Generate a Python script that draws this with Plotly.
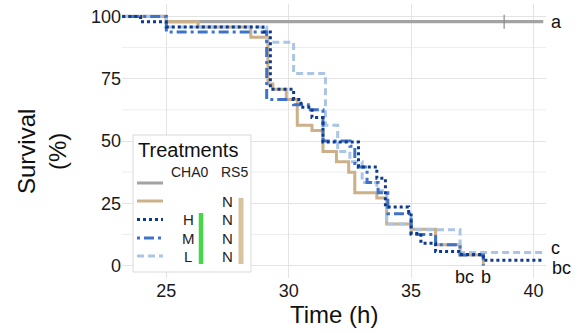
import plotly.graph_objects as go

# ---------------- data ----------------
time_gray = [23.2, 25.0, 40.4]
surv_gray = [100, 97.9, 97.9]
censor_time = [38.8]
censor_surv = [97.9]

time_tan = [23.2, 25.0, 26.3, 28.45, 29.15, 29.35, 29.9, 30.35, 30.95, 31.4, 31.95, 32.45, 32.7, 33.6, 34.0, 35.0, 36.0, 37.0, 37.95]
surv_tan = [100, 97.9, 95.8, 91.7, 72.9, 70.8, 66.7, 56.3, 54.2, 45.8, 41.7, 37.5, 29.2, 27.1, 16.7, 14.6, 8.3, 4.2, 0]

time_H = [23.2, 23.95, 25.0, 28.95, 29.25, 30.2, 30.5, 30.95, 31.4, 32.85, 33.6, 33.95, 34.9, 35.0, 35.4, 36.0, 36.95, 37.95, 40.4]
surv_H = [100, 97.9, 95.8, 93.8, 70.8, 66.7, 63.5, 59.4, 49.6, 39.6, 35.0, 23.5, 21.2, 12.9, 9.0, 5.6, 4.4, 2.1, 2.1]

time_M = [23.2, 25.0, 29.1, 30.2, 30.8, 31.4, 32.5, 32.7, 33.2, 33.65, 34.05, 35.0, 36.0, 37.0, 37.95]
surv_M = [100, 93.75, 66.7, 64.6, 62.5, 50.0, 47.9, 39.6, 33.3, 29.2, 20.8, 12.5, 8.3, 4.2, 0]

time_L = [23.2, 25.0, 29.1, 30.2, 31.5, 32.0, 32.5, 33.0, 33.6, 34.0, 35.0, 37.0, 40.4]
surv_L = [100, 95.8, 89.6, 77.1, 56.3, 45.8, 41.7, 33.3, 30.0, 16.7, 14.4, 5.2, 5.2]

x_ticks = [25, 30, 35, 40]
y_ticks = [0, 25, 50, 75, 100]
y_minor = [12.5, 37.5, 62.5, 87.5]

sig_labels = ["a", "c", "bc", "bc", "b"]
sig_x = [40.95, 40.9, 41.15, 37.2, 38.05]
sig_y = [97.9, 7.2, -1.0, -4.7, -4.7]

legend_rows = ["", "", "H", "M", "L"]
legend_rs5 = ["", "N", "N", "N", "N"]

# ---------------- style ----------------
FONT = "Liberation Sans, Arial, sans-serif"
C_GRAY = "#a3a3a3"
C_TAN = "#ccb089"
C_H = "#0c3a8e"
C_M = "#3f72c9"
C_L = "#abc5e6"
D_H = "3px,3px"
D_M = "3px,4px,10px,4px"
D_L = "7px,4px"

XR = [23.19, 40.51]
YR = [-5, 105]
ML, MR, MT, MB = 122, 33, 4, 55
W, H = 579, 333
PW, PH = W - ML - MR, H - MT - MB


def px(x):
    return (x - ML) / PW


def py(y):
    return (H - MB - y) / PH


def dx(v):
    return (v - XR[0]) / (XR[1] - XR[0])


def dy(v):
    return (v - YR[0]) / (YR[1] - YR[0])


fig = go.Figure()
fig.add_trace(go.Scatter(x=time_gray, y=surv_gray, mode="lines", line=dict(color=C_GRAY, width=3.2, shape="hv"), showlegend=False))
fig.add_trace(go.Scatter(x=censor_time, y=censor_surv, mode="markers", marker=dict(symbol="line-ns-open", size=10, color="#8a8a8a", line=dict(color="#8a8a8a", width=1.2)), showlegend=False))
fig.add_trace(go.Scatter(x=time_tan, y=surv_tan, mode="lines", line=dict(color=C_TAN, width=3, shape="hv"), showlegend=False))
fig.add_trace(go.Scatter(x=time_L, y=surv_L, mode="lines", line=dict(color=C_L, width=3, shape="hv", dash=D_L), showlegend=False))
fig.add_trace(go.Scatter(x=time_M, y=surv_M, mode="lines", line=dict(color=C_M, width=3, shape="hv", dash=D_M), showlegend=False))
fig.add_trace(go.Scatter(x=time_H, y=surv_H, mode="lines", line=dict(color=C_H, width=3, shape="hv", dash=D_H), showlegend=False))

shapes = []
for v in y_minor:
    shapes.append(dict(type="line", xref="paper", yref="y", x0=0, x1=1, y0=v, y1=v, line=dict(color="#ededed", width=1), layer="below"))

# legend box
lx0, lx1, ly0, ly1 = 133, 251, 135, 272
shapes.append(dict(type="rect", xref="paper", yref="paper", x0=px(lx0), x1=px(lx1), y0=py(ly1), y1=py(ly0), fillcolor="white", line=dict(color="#d9d9d9", width=1), layer="above"))
row_y = [183, 201, 219.5, 238, 256]
samples = [(C_GRAY, "solid"), (C_TAN, "solid"), (C_H, D_H), (C_M, D_M), (C_L, D_L)]
for ry, (c, d) in zip(row_y, samples):
    shapes.append(dict(type="line", xref="paper", yref="paper", x0=px(137), x1=px(163), y0=py(ry), y1=py(ry), line=dict(color=c, width=3, dash=d), layer="above"))
shapes.append(dict(type="line", xref="paper", yref="paper", x0=px(201), x1=px(201), y0=py(213), y1=py(264), line=dict(color="#46d648", width=4.5), layer="above"))
shapes.append(dict(type="line", xref="paper", yref="paper", x0=px(241), x1=px(241), y0=py(198), y1=py(264), line=dict(color="#d7c39f", width=5), layer="above"))

annotations = []
annotations.append(dict(text="Treatments", xref="paper", yref="paper", x=px(136), y=py(150), xanchor="left", yanchor="middle", showarrow=False, font=dict(family=FONT, size=20, color="#111111")))
annotations.append(dict(text="CHA0", xref="paper", yref="paper", x=px(190), y=py(172), xanchor="center", yanchor="middle", showarrow=False, font=dict(family=FONT, size=14, color="#222222")))
annotations.append(dict(text="RS5", xref="paper", yref="paper", x=px(234), y=py(172), xanchor="center", yanchor="middle", showarrow=False, font=dict(family=FONT, size=14, color="#222222")))
for ry, a, b in zip(row_y, legend_rows, legend_rs5):
    if a:
        annotations.append(dict(text=a, xref="paper", yref="paper", x=px(188), y=py(ry), xanchor="center", yanchor="middle", showarrow=False, font=dict(family=FONT, size=15, color="#222222")))
    if b:
        annotations.append(dict(text=b, xref="paper", yref="paper", x=px(227), y=py(ry), xanchor="center", yanchor="middle", showarrow=False, font=dict(family=FONT, size=15, color="#222222")))

for s, xv, yv in zip(sig_labels, sig_x, sig_y):
    annotations.append(dict(text=s, xref="paper", yref="paper", x=dx(xv), y=dy(yv), xanchor="center", yanchor="middle", showarrow=False, font=dict(family=FONT, size=18, color="#111111")))

annotations.append(dict(text="Survival<br>(%)", xref="paper", yref="paper", x=px(42), y=py(152), xanchor="center", yanchor="middle", textangle=-90, showarrow=False, font=dict(family=FONT, size=24, color="#111111")))
annotations.append(dict(text="Time (h)", xref="paper", yref="paper", x=px(334), y=py(314), xanchor="center", yanchor="middle", showarrow=False, font=dict(family=FONT, size=24, color="#111111")))

fig.update_layout(
    width=W, height=H,
    margin=dict(l=ML, r=MR, t=MT, b=MB, autoexpand=False),
    paper_bgcolor="white", plot_bgcolor="white",
    font=dict(family=FONT, size=18, color="#222222"),
    shapes=shapes, annotations=annotations,
    xaxis=dict(range=XR, tickvals=x_ticks, ticktext=[str(v) for v in x_ticks], showgrid=True, gridcolor="#e3e3e3", gridwidth=1,
               zeroline=False, showline=False, ticks="", tickfont=dict(family=FONT, size=18, color="#1a1a1a"), automargin=False),
    yaxis=dict(range=YR, tickvals=y_ticks, ticktext=[str(v) for v in y_ticks], showgrid=True, gridcolor="#e3e3e3", gridwidth=1,
               zeroline=False, showline=False, ticks="", tickfont=dict(family=FONT, size=18, color="#1a1a1a"), automargin=False),
)

fig.write_html("out.html")
